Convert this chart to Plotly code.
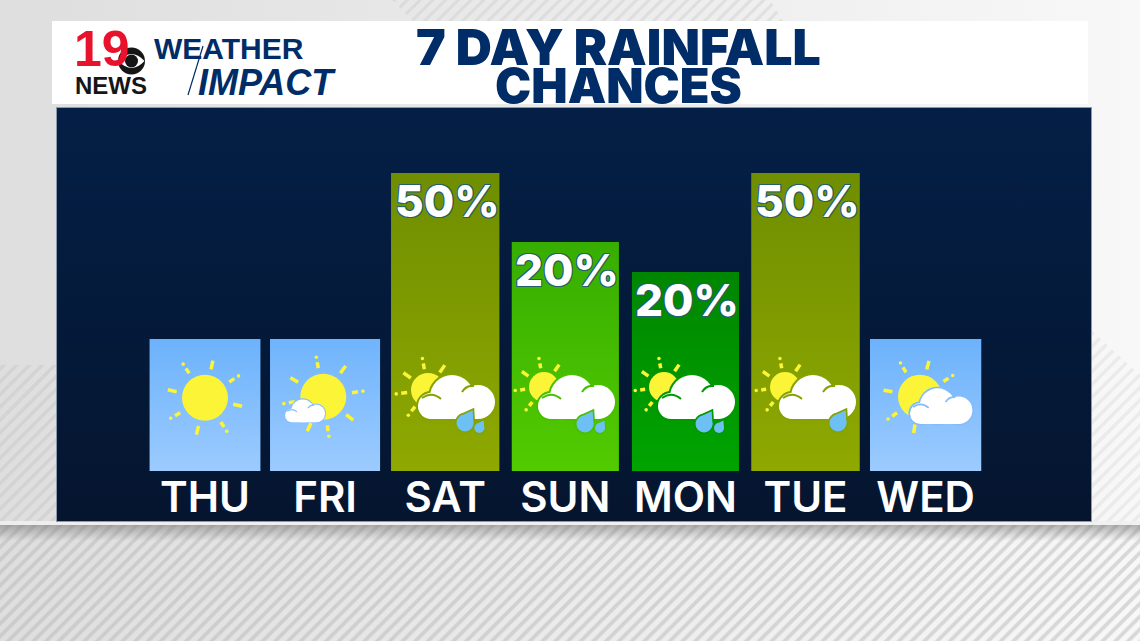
import math
import plotly.graph_objects as go

W, H = 1140, 641

# chart data, bar heights
days = ["THU", "FRI", "SAT", "SUN", "MON", "TUE", "WED"]
bar_heights = [132, 132, 298, 229, 199, 298, 132]
rain_labels = ["", "", "50%", "20%", "20%", "50%", ""]

# styles
positions = list(range(len(days)))
bar_widths = [0.92, 0.915, 0.9, 0.89, 0.89, 0.9, 0.925]
bar_tops = ["#6cb2fb", "#70b4fc", "#6f8e00", "#37ad00", "#008600", "#6f8e00", "#6cb2fb"]
bar_bottoms = ["#9ccbff", "#9ccbff", "#8fa900", "#52cb00", "#00a400", "#8fa900", "#9ccbff"]
NAVY = "#002c68"
YELLOW = "#fbf437"
DROP = "#6cc0f4"

fig = go.Figure()
shapes = []


def rect(x0, y0, x1, y1, color=None, gradient=None, kind="vertical", pattern=None):
    # background pieces live on the full-frame pixel axes
    poly(([x0, x0, x1, x1], [y0, y1, y1, y0]), color, gradient, kind, pattern)


def poly(pts, color=None, gradient=None, kind="vertical", pattern=None):
    t = dict(x=pts[0] + [pts[0][0]], y=pts[1] + [pts[1][0]], mode="none", fill="toself",
             hoverinfo="skip", showlegend=False, xaxis="x", yaxis="y")
    if color:
        t["fillcolor"] = color
    if gradient:
        # a vertical colorscale runs from the bottom of the area upwards
        a, b = gradient if kind == "horizontal" else gradient[::-1]
        t["fillgradient"] = dict(type=kind, colorscale=[[0, a], [1, b]])
    if pattern:
        t["fillpattern"] = dict(shape="/", size=pattern[1], solidity=pattern[2],
                                fgcolor=pattern[0], bgcolor="rgba(0,0,0,0)", fillmode="overlay")
        t["fillcolor"] = "rgba(0,0,0,0)"
    fig.add_trace(go.Scatter(**t))


# page background
rect(0, 0, W, H, gradient=("#dedede", "#f8f8f8"), kind="horizontal")
poly(([392, 770, 783, 413], [0, 0, 21, 21]), pattern=("#cfcfcf", 9, 0.35))
poly(([0, 57, 57, 0], [365, 365, 525, 525]), pattern=("#c8c8c8", 9, 0.4))
poly(([1091, 1140, 1140, 1091], [330, 375, 525, 525]), pattern=("#dedede", 9, 0.4))
rect(0, 525, W, H, pattern=("#b8b8b8", 9, 0.42))
rect(0, 525, W, 541, gradient=("rgba(120,120,120,0.55)", "rgba(120,120,120,0)"))
rect(0, 521, W, 525, color="rgba(240,240,240,0.9)")

# header and panel
rect(52, 21, 1088, 104, color="#ffffff")
rect(56, 107, 1092, 522, color="#8b99ad")
rect(57, 108, 1091, 521, gradient=("#041f46", "#05152f"))

# bars on their own axes, gradient fill laid over them from the same values
fig.add_trace(go.Bar(x=positions, y=bar_heights, width=bar_widths, marker_color=bar_tops,
                     marker_line_width=0, hoverinfo="skip", showlegend=False,
                     xaxis="x2", yaxis="y2"))
for p, h, w, top, bottom in zip(positions, bar_heights, bar_widths, bar_tops, bar_bottoms):
    fig.add_trace(go.Scatter(x=[p - w / 2, p - w / 2, p + w / 2, p + w / 2, p - w / 2],
                             y=[0, h, h, 0, 0], mode="none", fill="toself",
                             fillgradient=dict(type="vertical", colorscale=[[0, bottom], [1, top]]),
                             hoverinfo="skip", showlegend=False, xaxis="x2", yaxis="y2"))


def circle(cx, cy, r, color):
    shapes.append(dict(type="circle", xref="x", yref="y", x0=cx - r, x1=cx + r, y0=cy - r, y1=cy + r,
                       fillcolor=color, line_width=0))


def line(x0, y0, x1, y1, color=YELLOW, width=3.5):
    shapes.append(dict(type="line", xref="x", yref="y", x0=x0, y0=y0, x1=x1, y1=y1,
                       line=dict(color=color, width=width)))


def path(d, fill=None, color=None, width=0):
    s = dict(type="path", xref="x", yref="y", path=d, line=dict(width=width, color=color or "rgba(0,0,0,0)"))
    if fill:
        s["fillcolor"] = fill
    shapes.append(s)


def sun(cx, cy, r, rays, ray_in, ray_out):
    # rays: (angle, has dot)
    for a, dot in rays:
        ca, sa = math.cos(math.radians(a)), -math.sin(math.radians(a))
        if dot:
            line(cx + ca * ray_in, cy + sa * ray_in, cx + ca * (ray_out - 3), cy + sa * (ray_out - 3))
            circle(cx + ca * (ray_out + 2), cy + sa * (ray_out + 2), 1.8, YELLOW)
        else:
            line(cx + ca * ray_in, cy + sa * ray_in, cx + ca * ray_out, cy + sa * ray_out)
    circle(cx, cy, r, YELLOW)


def cloud(cx, cy, s, edge):
    for dx, dy, r in [(-4, -3, 22), (22, 2, 17), (-25, 6, 13)]:
        circle(cx + dx * s, cy + dy * s, (r + 2) * s, edge)
    for dx, dy, r in [(-4, -3, 22), (22, 2, 17), (-25, 6, 13)]:
        circle(cx + dx * s, cy + dy * s, r * s, "#ffffff")
    path(f"M{cx - 25 * s},{cy} L{cx + 22 * s},{cy} L{cx + 22 * s},{cy + 19 * s} L{cx - 25 * s},{cy + 19 * s} Z", fill="#ffffff")
    w = max(1.2, 2 * s)
    path(f"M{cx + 6 * s},{cy - 8 * s} Q{cx + 10 * s},{cy - 15 * s} {cx + 18 * s},{cy - 14 * s}", color=edge, width=w)
    path(f"M{cx - 34 * s},{cy - 2 * s} Q{cx - 24 * s},{cy - 9 * s} {cx - 15 * s},{cy - 1 * s}", color=edge, width=w)


def drop(cx, cy, r, edge):
    for k, c in [(1.2, edge), (1, DROP)]:
        tx, ty = cx + 0.75 * r * k * 1.2, cy - 1.5 * r * k
        circle(cx, cy, r * k, c)
        path(f"M{tx},{ty} L{cx + r * k},{cy + 1} L{cx - 0.6 * r * k},{cy - 0.8 * r * k} Z", fill=c)


# icons
sun(205, 397.7, 23, [(78, 0), (33, 1), (-13, 0), (-57, 1), (257, 0), (211, 1), (168, 0), (123, 1)], 29, 38)

sun(323.3, 396.7, 23, [(100, 1), (54, 0), (8, 1), (-38, 0), (-82, 1), (245, 0), (190, 1), (150, 0)], 29, 38)
cloud(304.8, 412.4, 0.52, "#86beff")

sun(920, 396.7, 22, [(76, 0), (33, 1), (260, 0), (215, 1), (170, 0), (120, 1)], 28, 37)
cloud(940.8, 408.6, 0.81, "#82bbfe")

cloud_rays = [(100, 1), (56, 0), (145, 0), (187, 1), (232, 1)]
sun(428, 390, 17, cloud_rays, 21, 30)
cloud(456, 400, 1, "#84a200")
drop(465, 423, 8.5, "#84a200")
drop(479.3, 428, 5, "#84a200")

sun(544, 387, 15, cloud_rays, 19, 27)
cloud(576, 400, 1, "#48c000")
drop(585, 424, 8.5, "#48c000")
drop(600, 428, 5, "#48c000")

sun(664, 387, 15, cloud_rays, 19, 27)
cloud(696, 400, 1, "#009800")
drop(704, 424, 8.5, "#009800")
drop(719, 428, 5, "#009800")

sun(785, 387, 15, cloud_rays, 19, 27)
cloud(817, 400, 1, "#84a200")
drop(838, 423, 8.5, "#84a200")

# cbs eye and the lightning slash in the logo
circle(131.5, 61, 13.5, "#161616")
path("M118.5,61 Q131.5,47 144.5,61 Q131.5,75 118.5,61 Z", fill="#ffffff")
circle(131.5, 61, 6.5, "#161616")
line(205, 32, 188, 94, color="#ffffff", width=3.5)
line(203, 46, 188, 95, color=NAVY, width=1.2)

annotations = []


def label(text, x, y, size, color, family="Liberation Sans", weight=700, anchor="center", style="normal"):
    annotations.append(dict(text=text, x=x, y=y, xref="x", yref="y", xanchor=anchor, yanchor="middle",
                            showarrow=False, font=dict(size=size, color=color, family=family, weight=weight, style=style)))


label("7 DAY RAINFALL", 618, 47, 50, NAVY, family="Inter", weight=900)
label("CHANCES", 618, 85, 48.5, NAVY, family="Inter", weight=900)
label("19", 72, 49, 50, "#e8122d", anchor="left")
label("NEWS", 73, 85, 24, "#161616", anchor="left")
label("WEATHER", 152, 48, 30, NAVY, anchor="left")
label("IMPACT", 196, 82, 36, NAVY, anchor="left", style="italic")

outline = ",".join(f"{a}px {b}px 0 #23606e" for a, b in [(-1, -1), (1, -1), (-1, 1), (1, 1)])
for p, h, t in zip(positions, bar_heights, rain_labels):
    if t:
        annotations.append(dict(text=t, x=p, y=h, xref="x2", yref="y2", xanchor="center", yanchor="top",
                                yshift=1, xshift=1.5, showarrow=False,
                                font=dict(size=44, color="#ffffff", family="Inter", weight=800, shadow=outline)))

BASE = 471  # pixel row of the bar baseline
STEP = 120.1
fig.update_layout(
    width=W, height=H, margin=dict(l=0, r=0, t=0, b=0), autosize=False,
    paper_bgcolor="#e8e8e8", plot_bgcolor="rgba(0,0,0,0)", showlegend=False,
    xaxis=dict(range=[0, W], domain=[0, 1], visible=False, fixedrange=True),
    yaxis=dict(range=[H, 0], domain=[0, 1], visible=False, fixedrange=True),
    xaxis2=dict(domain=[57 / W, 1091 / W], range=[(57 - 205) / STEP, (1091 - 205) / STEP], anchor="y2",
                tickmode="array", tickvals=positions, ticktext=days, showgrid=False, zeroline=False,
                showline=False, ticks="", ticklabelstandoff=-2,
                tickfont=dict(size=42, color="#ffffff", family="Inter", weight=600), fixedrange=True),
    yaxis2=dict(domain=[(H - BASE) / H, (H - 108) / H], range=[0, BASE - 108], anchor="x2",
                visible=False, fixedrange=True),
    barmode="overlay",
    shapes=shapes, annotations=annotations,
)

# the page's default body margin would push the figure off by 8 px
fig.write_html("out.html", config=dict(displayModeBar=False),
               post_script="document.body.style.margin='0';")
